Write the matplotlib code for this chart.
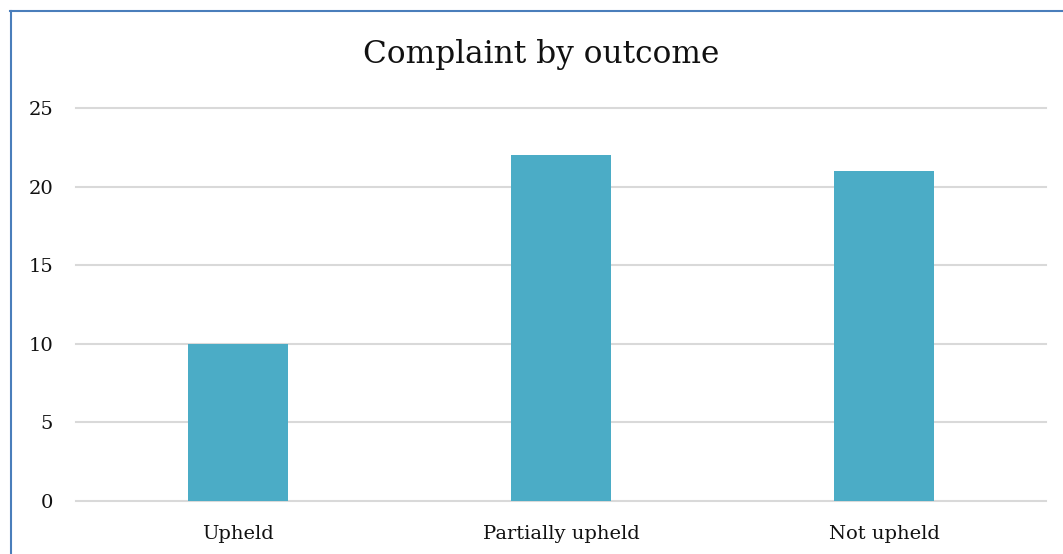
import numpy as np
import matplotlib.pyplot as plt
from matplotlib.lines import Line2D

# data
categories = ['Upheld', 'Partially upheld', 'Not upheld']
counts = [10, 22, 21]
y_ticks = [0, 5, 10, 15, 20, 25]

W, H = 1063, 554
fig = plt.figure(figsize=(W / 100, H / 100), dpi=100)
plt.rcParams['font.family'] = ['DejaVu Serif']

# plot area in pixels: x 76..1046, y 108..501
ax = fig.add_axes([76 / W, (H - 501) / H, (1046 - 76) / W, (501 - 108) / H])
x = np.arange(len(categories))
ax.bar(x, counts, width=0.31, color='#4BACC6', zorder=3)

ax.set_xlim(-0.5, len(categories) - 0.5)
ax.set_ylim(0, 25)
ax.set_yticks(y_ticks)
ax.set_xticks(x)
ax.set_xticklabels(categories)
ax.grid(axis='y', color='#D9D9D9', linewidth=1.5, zorder=0)
for gl in ax.get_ygridlines():
    gl.set_clip_on(False)
for s in ax.spines.values():
    s.set_visible(False)
ax.tick_params(length=0, labelsize=14, colors='#111111')
ax.tick_params(axis='x', pad=17)
ax.tick_params(axis='y', pad=16.5)

fig.text(541 / W, (H - 55) / H, 'Complaint by outcome', ha='center', va='center',
         fontsize=22.5, color='#111111')

# chart border (left and top edges visible in the crop)
bc = '#4A7EBB'
fig.add_artist(Line2D([10.5 / W, 10.5 / W], [0, (H - 11) / H], transform=fig.transFigure, color=bc, lw=1.5))
fig.add_artist(Line2D([10 / W, 1], [(H - 11) / H, (H - 11) / H], transform=fig.transFigure, color=bc, lw=1.5))

fig.savefig('out.png', dpi=100)
